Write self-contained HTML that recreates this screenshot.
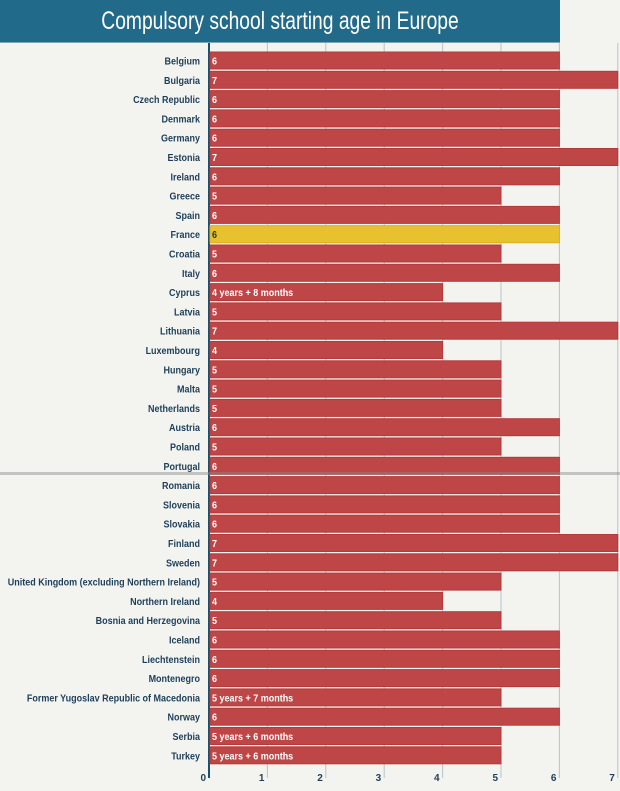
<!DOCTYPE html>
<html><head><meta charset="utf-8"><style>
body{margin:0;width:620px;height:791px;background:#f3f3ef;overflow:hidden;font-family:"Liberation Sans",sans-serif;position:relative}
#title{position:absolute;left:0;top:0;width:560px;height:42px;background:#226a89;border-bottom:1px solid #7fa6b8}
#title span{position:absolute;left:0;width:560px;color:#fff;font-size:25px;line-height:42px;text-align:center;transform:scaleX(0.77);transform-origin:280px 0}
svg{position:absolute;left:0;top:0}
text{font-family:"Liberation Sans",sans-serif;font-weight:bold;font-size:10px}
</style></head><body>
<div id="title"><span>Compulsory school starting age in Europe</span></div>
<svg id="c" width="620" height="791"></svg>
<script>
const countries=["Belgium","Bulgaria","Czech Republic","Denmark","Germany","Estonia","Ireland","Greece","Spain","France","Croatia","Italy","Cyprus","Latvia","Lithuania","Luxembourg","Hungary","Malta","Netherlands","Austria","Poland","Portugal","Romania","Slovenia","Slovakia","Finland","Sweden","United Kingdom (excluding Northern Ireland)","Northern Ireland","Bosnia and Herzegovina","Iceland","Liechtenstein","Montenegro","Former Yugoslav Republic of Macedonia","Norway","Serbia","Turkey"];
const values=[6,7,6,6,6,7,6,5,6,6,5,6,4,5,7,4,5,5,5,6,5,6,6,6,6,7,7,5,4,5,6,6,6,5,6,5,5];
const valueLabels=["6","7","6","6","6","7","6","5","6","6","5","6","4 years + 8 months","5","7","4","5","5","5","6","5","6","6","6","6","7","7","5","4","5","6","6","6","5 years + 7 months","6","5 years + 6 months","5 years + 6 months"];
const ticks=[0,1,2,3,4,5,6,7];
const highlight="France";
const svg=document.getElementById('c');const NS="http://www.w3.org/2000/svg";
const x=v=>209+v*58.4;
const y=i=>52+i*19.3;
function mk(t,a){const e=document.createElementNS(NS,t);for(const k in a)e.setAttribute(k,a[k]);svg.appendChild(e);return e;}
ticks.forEach(t=>{
 const l=mk('line',{x1:x(t),x2:x(t),y1:43,y2:778,stroke:t==0?'#1d4f6a':'#b9c4c8','stroke-width':t==0?2:1});
 
 const tx=mk('text',{x:x(t)-3,y:781,'text-anchor':'end',fill:'#1d3f5a'});tx.textContent=t;
 
});
countries.forEach((c,i)=>{
 const r=mk('rect',{x:x(0)+1,y:y(i),width:x(values[i])-x(0)-1,height:17,fill:c==highlight?'#e8c22e':'#bf4647',stroke:c==highlight?'#d8b020':'#b33a3c','stroke-width':1});
 
 const vt=mk('text',{x:0,y:0,fill:c==highlight?'#333':'#fff',transform:`translate(${x(0)+3},${y(i)+12.5}) scale(0.9,1)`});vt.textContent=valueLabels[i];
 
 const lt=mk('text',{x:0,y:0,'text-anchor':'end',fill:'#1d3f5a',transform:`translate(200,${y(i)+12.5}) scale(0.9,1)`});lt.textContent=c;
 
});
const s=mk('rect',{x:0,y:472,width:620,height:3,fill:'#8a8a8a',opacity:0.45});

</script>
</body></html>
